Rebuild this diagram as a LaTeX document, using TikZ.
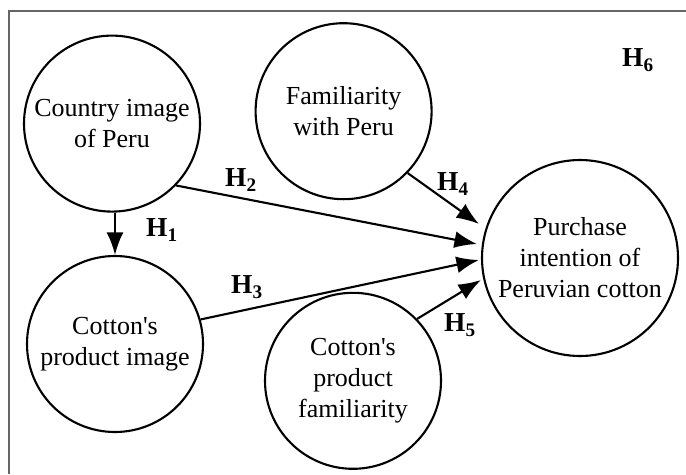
\documentclass[tikz,border=0pt]{standalone}
\usepackage{fontspec}
\setmainfont{Liberation Serif}
\usetikzlibrary{arrows.meta,calc}
\newcommand{\myunit}{4.4cm}
\newcommand{\hyp}[1]{H\textsubscript{#1}}
\tikzset{
    varsty/.style={draw,circle,line width=1.5pt,minimum size=\myunit,inner sep=0pt,align=center,font=\fontsize{18.5pt}{22pt}\selectfont},
    bigsty/.style={varsty,minimum size=4.9cm},
    hypsty/.style={font=\fontsize{19.5pt}{21pt}\selectfont\bfseries},
    linksty/.style={line width=1.5pt,-{Latex[length=16pt,width=12pt]}},
    framesty/.style={draw=gray!80!black,line width=1pt},
}

\begin{document}
\begin{tikzpicture}
\useasboundingbox (0,0) rectangle (17.15,11.85);
\draw[framesty] (0.225,0) |- (17.15,11.575);

\node[varsty] (country) at (2.8,8.76) {Country image\\of Peru};
\node[varsty] (famil) at (8.59,9.07) {Familiarity\\with Peru};
\node[varsty] (cpi) at (2.875,3.25) {Cotton\textquotesingle s\\product image};
\node[varsty] (cpf) at (8.825,2.33) {Cotton\textquotesingle s\\product\\familiarity};
\node[bigsty] (purch) at (14.5,5.4) {Purchase\\intention of\\Peruvian cotton};

\coordinate (in4) at ($(purch.west)+(-0.05,0.85)$);
\coordinate (in2) at ($(purch.west)+(-0.1,0.35)$);
\coordinate (in3) at ($(purch.west)+(-0.05,-0.05)$);
\coordinate (in5) at ($(purch.west)+(0,-0.55)$);

\draw[linksty] (cpi.north |- country.south) -- (cpi.north);
\draw[linksty] (country.-44) -- (in2);
\draw[linksty] (famil.-44) -- (in4);
\draw[linksty] (cpi.16) -- (in3);
\draw[linksty] (cpf.44) -- (in5);

\node[hypsty] (h1) at (4.05,6.1) {\hyp{1}};
\node[hypsty] (h2) at (6.025,7.35) {\hyp{2}};
\node[hypsty] (h3) at (6.175,4.675) {\hyp{3}};
\node[hypsty] (h4) at (11.325,7.25) {\hyp{4}};
\node[hypsty] (h5) at (11.5,3.725) {\hyp{5}};
\node[hypsty] (h6) at (15.95,10.35) {\hyp{6}};
\end{tikzpicture}
\end{document}
